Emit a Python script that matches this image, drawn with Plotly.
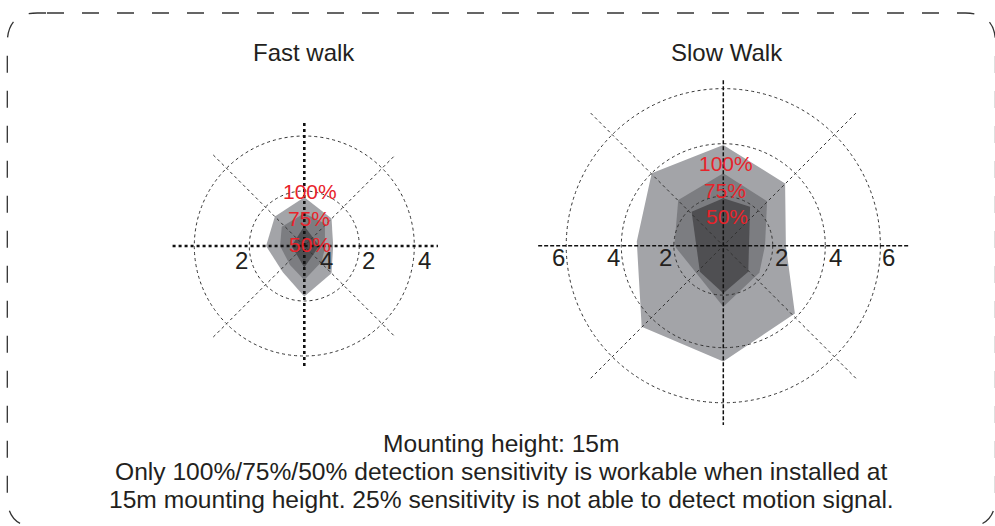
import plotly.graph_objects as go

W, H = 995, 526

# ---------------- data (metres) ----------------
fast_title = "Fast walk"
slow_title = "Slow Walk"
sens_labels = ["100%", "75%", "50%"]

fast_rings = [2.0, 4.0]
slow_rings = [1.92, 3.96, 6.1]

# Fast walk detection areas
fast_100_x = [0, 0.99, 1.05, 0.99, 0, -0.78, -1.39, -1.07]
fast_100_y = [1.77, 1.0, 0, -0.99, -1.84, -0.95, 0, 1.07]
fast_75_x = [0, 0.75, 0.75, 0.63, 0, -0.52, -0.88, -0.82]
fast_75_y = [1.19, 0.82, -0.08, -0.57, -1.24, -0.69, 0, 0.70]
fast_50_x = [0, 0.54, 0, -0.46]
fast_50_y = [0.73, 0, -0.78, 0]

# Slow walk detection areas
slow_100_x = [0, 2.40, 2.43, 2.78, 0, -3.17, -3.36, -2.78]
slow_100_y = [3.91, 2.42, 0, -2.63, -4.50, -3.15, 0.16, 2.81]
slow_75_x = [0, 1.70, 1.62, 1.40, 0, -1.10, -1.90, -1.75]
slow_75_y = [2.81, 1.73, 0, -1.05, -2.37, -1.00, 0, 1.77]
slow_50_x = [0, 1.04, 0.97, 0, -0.91, -1.23]
slow_50_y = [1.84, 1.51, -1.01, -1.85, -1.01, 1.32]

# distance labels
fast_tick_text = ["2", "4", "2", "4"]
fast_tick_x = [-2.28, 0.81, 2.33, 4.36]
slow_tick_text = ["6", "4", "2", "2", "4", "6"]
slow_tick_x = [-6.41, -4.27, -2.26, 2.27, 4.34, 6.41]

# sensitivity label positions
fast_sens_x = [0.21, 0.17, 0.22]
fast_sens_y = [1.97, 0.99, 0.04]
slow_sens_x = [0.09, 0.07, 0.16]
slow_sens_y = [3.20, 2.16, 1.13]

footer_lines = [
    "Mounting height: 15m",
    "Only 100%/75%/50% detection sensitivity is workable when installed at",
    "15m mounting height. 25% sensitivity is not able to detect motion signal.",
]

# ---------------- styles ----------------
C100 = "#a3a4a8"
C75 = "#7c7d81"
C50 = "#4f4f52"
RED = "#e8232a"
TXT = "#231f20"
FONT = "Liberation Sans, Arial, sans-serif"


def axis_setup(cx, cy, scale, xpx0, xpx1, ypx0, ypx1):
    xdom = [xpx0 / W, xpx1 / W]
    ydom = [1 - ypx1 / H, 1 - ypx0 / H]
    xr = [(xpx0 - cx) / scale, (xpx1 - cx) / scale]
    yr = [(cy - ypx1) / scale, (cy - ypx0) / scale]
    return xdom, ydom, xr, yr


fx_dom, fy_dom, fx_r, fy_r = axis_setup(304.3, 246.0, 27.5, 160, 450, 110, 380)
sx_dom, sy_dom, sx_r, sy_r = axis_setup(723.3, 245.7, 25.75, 530, 920, 65, 440)

fig = go.Figure()


def poly(x, y, color, xa, ya):
    fig.add_trace(go.Scatter(
        x=x + [x[0]], y=y + [y[0]], mode="lines", fill="toself",
        fillcolor=color, line=dict(width=0, color=color),
        hoverinfo="skip", showlegend=False, xaxis=xa, yaxis=ya))


poly(fast_100_x, fast_100_y, C100, "x", "y")
poly(fast_75_x, fast_75_y, C75, "x", "y")
poly(fast_50_x, fast_50_y, C50, "x", "y")
poly(slow_100_x, slow_100_y, C100, "x2", "y2")
poly(slow_75_x, slow_75_y, C75, "x2", "y2")
poly(slow_50_x, slow_50_y, C50, "x2", "y2")

shapes = []


def circles(rings, xr, yr):
    for r in rings:
        shapes.append(dict(type="circle", xref=xr, yref=yr, x0=-r, x1=r, y0=-r, y1=r,
                           line=dict(color="#333333", width=1, dash="dot"), layer="above"))


def lines(xr, yr, hx, vy, d, main_style):
    shapes.append(dict(type="line", xref=xr, yref=yr, x0=-d, y0=d, x1=d, y1=-d,
                       line=dict(color="#333333", width=1, dash="dot"), layer="above"))
    shapes.append(dict(type="line", xref=xr, yref=yr, x0=-d, y0=-d, x1=d, y1=d,
                       line=dict(color="#333333", width=1, dash="dot"), layer="above"))
    shapes.append(dict(type="line", xref=xr, yref=yr, x0=hx[0], y0=0, x1=hx[1], y1=0,
                       line=main_style, layer="above"))
    shapes.append(dict(type="line", xref=xr, yref=yr, x0=0, y0=vy[0], x1=0, y1=vy[1],
                       line=main_style, layer="above"))


circles(fast_rings, "x", "y")
circles(slow_rings, "x2", "y2")
lines("x", "y", [-4.79, 4.86], [4.47, -4.40], 3.31,
      dict(color="#111111", width=2.6, dash="dot"))
lines("x2", "y2", [-7.19, 7.25], [6.43, -6.96], 5.15,
      dict(color="#111111", width=1.5, dash="4px,2px"))


# dashed rounded border (paper coords)
def P(px, py):
    return f"{px / W:.5f},{1 - py / H:.5f}"


L, T, R, B, rad = 7.3, 13.0, 995.5, 527.0, 30.0
path = (f"M{P(47, T)} L{P(R - rad, T)} Q{P(R, T)} {P(R, T + rad)} "
        f"L{P(R, B - rad)} Q{P(R, B)} {P(R - rad, B)} "
        f"L{P(L + rad, B)} Q{P(L, B)} {P(L, B - rad)} "
        f"L{P(L, T + rad)} Q{P(L, T)} {P(L + rad, T)} L{P(47, T)}")
shapes.append(dict(type="path", xref="paper", yref="paper", path=path,
                   line=dict(color="#333333", width=1.3, dash="17px,18px"), layer="above"))

ann = []
for t, x in zip(fast_tick_text, fast_tick_x):
    ann.append(dict(x=x, y=-0.51, xref="x", yref="y", text=t, showarrow=False,
                    xanchor="center", yanchor="middle",
                    font=dict(family=FONT, size=24, color=TXT)))
for t, x in zip(slow_tick_text, slow_tick_x):
    ann.append(dict(x=x, y=-0.45, xref="x2", yref="y2", text=t, showarrow=False,
                    xanchor="center", yanchor="middle",
                    font=dict(family=FONT, size=24, color=TXT)))
for t, x, y in zip(sens_labels, fast_sens_x, fast_sens_y):
    ann.append(dict(x=x, y=y, xref="x", yref="y", text=t, showarrow=False,
                    xanchor="center", yanchor="middle",
                    font=dict(family=FONT, size=21, color=RED)))
for t, x, y in zip(sens_labels, slow_sens_x, slow_sens_y):
    ann.append(dict(x=x, y=y, xref="x2", yref="y2", text=t, showarrow=False,
                    xanchor="center", yanchor="middle",
                    font=dict(family=FONT, size=21, color=RED)))

ann.append(dict(x=304.2 / W, y=1 - 52.5 / H, xref="paper", yref="paper", text=fast_title,
                xanchor="center", yanchor="middle",
                showarrow=False, font=dict(family=FONT, size=24, color=TXT)))
ann.append(dict(x=727 / W, y=1 - 52.5 / H, xref="paper", yref="paper", text=slow_title,
                xanchor="center", yanchor="middle",
                showarrow=False, font=dict(family=FONT, size=24, color=TXT)))
for i, line in enumerate(footer_lines):
    ann.append(dict(x=501 / W, y=1 - (443.5 + 28 * i) / H, xref="paper", yref="paper",
                    text=line, showarrow=False, xanchor="center", yanchor="middle",
                    font=dict(family=FONT, size=24.6, color=TXT)))

ax_common = dict(visible=False, showgrid=False, zeroline=False, fixedrange=True)
fig.update_layout(
    width=W, height=H, margin=dict(l=0, r=0, t=0, b=0),
    paper_bgcolor="white", plot_bgcolor="rgba(0,0,0,0)",
    showlegend=False, shapes=shapes, annotations=ann,
    xaxis=dict(domain=fx_dom, range=fx_r, anchor="y", **ax_common),
    yaxis=dict(domain=fy_dom, range=fy_r, anchor="x", **ax_common),
    xaxis2=dict(domain=sx_dom, range=sx_r, anchor="y2", **ax_common),
    yaxis2=dict(domain=sy_dom, range=sy_r, anchor="x2", **ax_common),
)

fig.write_html("out.html", config={"displayModeBar": False},
               post_script="document.body.style.margin='0px';document.body.style.overflow='hidden';")
